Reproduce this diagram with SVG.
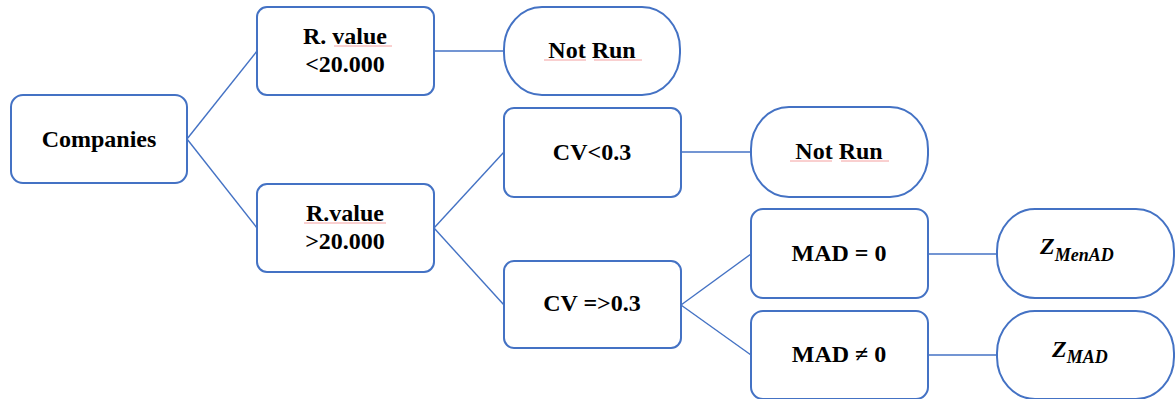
<svg xmlns="http://www.w3.org/2000/svg" width="1175" height="399" viewBox="0 0 1175 399">
<style>
.box{fill:#fff;stroke:#4472C4;stroke-width:2}
.con{stroke:#4472C4;stroke-width:1.4;fill:none}
text{font-family:'Liberation Serif','Times New Roman','DejaVu Serif',serif}
.t{font-weight:bold;font-size:24px;fill:#000;text-anchor:middle}
.m{font-weight:bold;font-style:italic;fill:#000}
.sp{stroke:#f4a0a0;stroke-width:1;fill:none}
</style>
<rect width="1175" height="399" fill="#fff"/>
<g id="connectors">
<line class="con" x1="187" y1="139" x2="257" y2="51"/>
<line class="con" x1="187" y1="139" x2="257" y2="228"/>
<line class="con" x1="434" y1="51" x2="504" y2="51"/>
<line class="con" x1="434" y1="228" x2="504" y2="152"/>
<line class="con" x1="434" y1="228" x2="504" y2="305"/>
<line class="con" x1="681" y1="152" x2="751" y2="152"/>
<line class="con" x1="681" y1="305" x2="751" y2="254"/>
<line class="con" x1="681" y1="305" x2="751" y2="355"/>
<line class="con" x1="928" y1="254" x2="997" y2="254"/>
<line class="con" x1="928" y1="355" x2="997" y2="355"/>
</g>
<g id="companies">
<rect class="box" x="11" y="95" width="176" height="88" rx="12"/>
<text class="t" x="99" y="147" font-family="Liberation Serif, DejaVu Serif, serif">Companies</text>
</g>
<g id="rvalue-low">
<rect class="box" x="257" y="7" width="177" height="88" rx="10"/>
<text class="t" x="345" y="44">R. value</text>
<text class="t" x="345" y="72">&lt;20.000</text>
<line class="sp" x1="334" y1="46" x2="392" y2="46"/>
</g>
<g id="notrun-1">
<rect class="box" x="504" y="7" width="176" height="88" rx="38" ry="42"/>
<text class="t" x="592" y="58">Not Run</text>
<line class="sp" x1="544" y1="60" x2="586" y2="60"/>
<line class="sp" x1="594" y1="60" x2="642" y2="60"/>
</g>
<g id="rvalue-high">
<rect class="box" x="257" y="184" width="177" height="88" rx="10"/>
<text class="t" x="345" y="221">R.value</text>
<text class="t" x="345" y="249">&gt;20.000</text>
<line class="sp" x1="304" y1="223" x2="386" y2="223"/>
</g>
<g id="cv-low">
<rect class="box" x="504" y="108" width="177" height="89" rx="10"/>
<text class="t" x="592" y="160">CV&lt;0.3</text>
</g>
<g id="notrun-2">
<rect class="box" x="751" y="107" width="177" height="90" rx="38" ry="42"/>
<text class="t" x="839" y="159">Not Run</text>
<line class="sp" x1="790" y1="161" x2="832" y2="161"/>
<line class="sp" x1="841" y1="161" x2="889" y2="161"/>
</g>
<g id="cv-high">
<rect class="box" x="504" y="261" width="177" height="87" rx="10"/>
<text class="t" x="592" y="311">CV =&gt;0.3</text>
</g>
<g id="mad-zero">
<rect class="box" x="751" y="209" width="177" height="89" rx="12"/>
<text class="t" x="839" y="261">MAD = 0</text>
</g>
<g id="mad-nonzero">
<rect class="box" x="751" y="311" width="177" height="88" rx="12"/>
<text class="t" x="839" y="362">MAD ≠ 0</text>
</g>
<g id="z-menad">
<rect class="box" x="997" y="209" width="177" height="89" rx="38" ry="42"/>
<text class="m" x="1040" y="254" font-size="24">Z<tspan font-size="18" dy="7">MenAD</tspan></text>
</g>
<g id="z-mad">
<rect class="box" x="997" y="311" width="177" height="88" rx="38" ry="42"/>
<text class="m" x="1052" y="357" font-size="24">Z<tspan font-size="18" dy="6">MAD</tspan></text>
</g>
</svg>
